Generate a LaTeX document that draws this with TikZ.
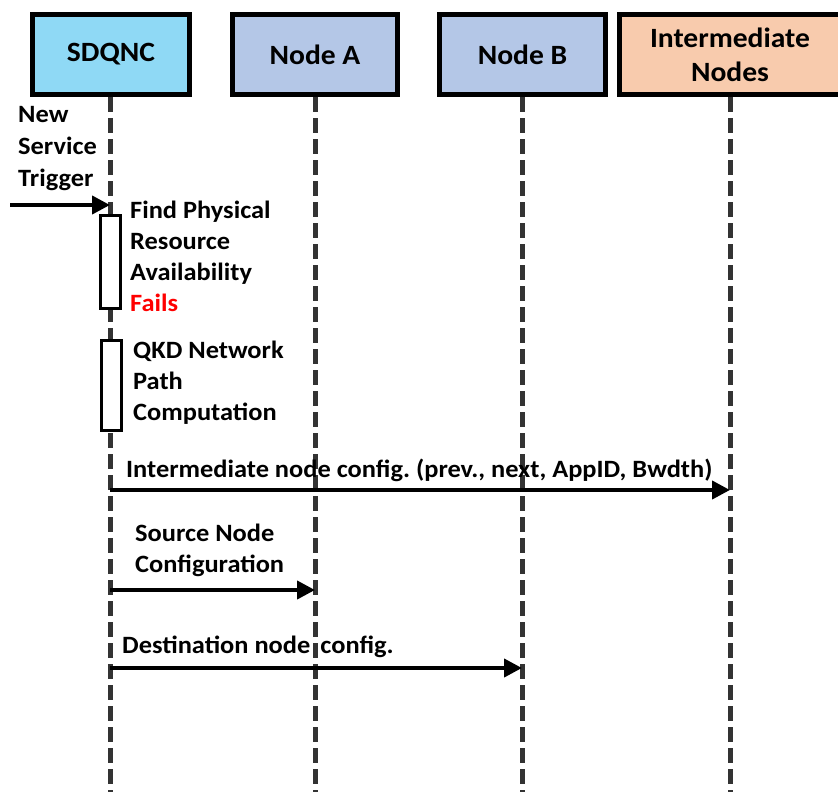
\documentclass[tikz,border=0pt]{standalone}
\usepackage{fontspec}
\setmainfont{Carlito}[FakeStretch=1.06]
\usetikzlibrary{arrows.meta}
\definecolor{ctrlblue}{HTML}{8FD9F5}
\definecolor{nodeblue}{HTML}{B4C7E7}
\definecolor{interpeach}{HTML}{F8CBAD}
\frenchspacing
\tikzset{
  head/.style={draw, line width=5bp, minimum height=80bp, inner sep=2bp, align=center,
    font=\fontsize{28}{34}\selectfont\bfseries},
  life/.style={line width=5bp, black!80, dash pattern=on 15bp off 6bp},
  msg/.style={line width=4bp, -{Triangle[length=18bp,width=18bp]}},
  lbl/.style={anchor=north west, inner sep=0pt, align=left,
    font=\fontsize{25}{31}\selectfont\bfseries},
  act/.style={draw, fill=white, line width=3bp},
}
\begin{document}
\begin{tikzpicture}[x=1bp,y=-1bp]
  \useasboundingbox (0,0) rectangle (838,792);
  % participants
  \node [head, fill=ctrlblue, minimum width=157bp] (sdqnc) at (111,54.5) {SDQNC};
  \node [head, fill=nodeblue, minimum width=165bp] (nodeA) at (315,54.5) {Node A};
  \node [head, fill=nodeblue, minimum width=166bp] (nodeB) at (522.5,54.5) {Node B};
  \node [head, fill=interpeach, minimum width=221bp] (inter) at (730,54.5) {Intermediate\\Nodes};
  % lifelines
  \foreach \p/\x in {sdqnc/110, nodeA/315, nodeB/522, inter/730} {
    \coordinate (\p-end) at (\x,792);
    \draw [life] (\x,97) -- (\p-end);
  }
  % trigger
  \coordinate (trig) at (10,205);
  \draw [msg] (trig) -- (trig -| sdqnc-end);
  \node [lbl, font=\fontsize{25}{32}\selectfont\bfseries] (trigtext) at (18,106) {New\\Service\\Trigger};
  % activations
  \draw [act] (100,215) rectangle (120,308);
  \draw [act] (101,340) rectangle (121,430);
  \node [lbl] (findtext) at (130,201) {Find Physical\\Resource\\Availability\\\textcolor{red}{Fails}};
  \node [lbl] (qkdtext) at (133,341) {QKD Network\\Path\\Computation};
  % messages
  \coordinate (m1) at (110,490);
  \coordinate (m2) at (110,590);
  \coordinate (m3) at (110,668);
  \draw [msg] (m1) -- (m1 -| inter-end);
  \draw [msg] (m2) -- (m2 -| nodeA-end);
  \draw [msg] (m3) -- (m3 -| nodeB-end);
  \node [lbl] (intertext) at (126,459) {Intermediate node config. (prev., next, AppID, Bwdth)};
  \node [lbl] (srctext) at (135,524) {Source Node\\Configuration};
  \node [lbl] (dsttext) at (122,636) {Destination node\hspace{10bp}config.};
\end{tikzpicture}
\end{document}
